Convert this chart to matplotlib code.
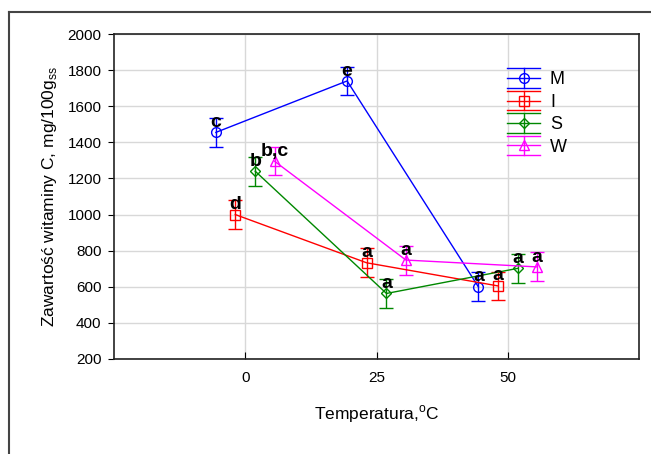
import matplotlib
matplotlib.use("Agg")
import matplotlib.pyplot as plt
from matplotlib.lines import Line2D
from matplotlib.legend_handler import HandlerBase
from matplotlib.container import ErrorbarContainer

temps = [0, 25, 50]
series = ["M", "I", "S", "W"]
means = {
    "M": [1455, 1740, 600],
    "I": [1000, 733, 605],
    "S": [1240, 563, 702],
    "W": [1295, 748, 710],
}
errs = {
    "M": [80, 78, 80],
    "I": [80, 80, 78],
    "S": [80, 80, 80],
    "W": [78, 80, 80],
}
letters = {
    "M": ["c", "e", "a"],
    "I": ["d", "a", "a"],
    "S": ["b", "a", "a"],
    "W": ["b,c", "a", "a"],
}
colors = {"M": "#0000ff", "I": "#ff0000", "S": "#008800", "W": "#ff00ff"}
markers = {"M": "o", "I": "s", "S": "D", "W": "^"}
msizes = {"M": 7, "I": 7, "S": 5, "W": 7}

plt.rcParams["font.family"] = ["Liberation Sans", "DejaVu Sans"]
plt.rcParams["mathtext.fontset"] = "custom"
plt.rcParams["mathtext.rm"] = "Liberation Sans"


class ErrHandler(HandlerBase):
    def create_artists(self, legend, orig_handle, xdescent, ydescent,
                       width, height, fontsize, trans):
        key = orig_handle.get_label()
        c = colors[key]
        x0, x1 = -xdescent, -xdescent + width
        xm = (x0 + x1) / 2
        ym = -ydescent + height / 2
        d = 7.0
        arts = [
            Line2D([x0, x1], [ym, ym], color=c, lw=1),
            Line2D([x0, x1], [ym + d, ym + d], color=c, lw=1),
            Line2D([x0, x1], [ym - d, ym - d], color=c, lw=1),
            Line2D([xm, xm], [ym - d, ym + d], color=c, lw=1),
            Line2D([xm], [ym], marker=markers[key], ms=msizes[key],
                   mfc="none", mec=c, color=c, lw=0),
        ]
        for a in arts:
            a.set_transform(trans)
        return arts


fig = plt.figure(figsize=(6.51, 4.54), dpi=100)
ax = fig.add_axes([114 / 651, 1 - 359 / 454, (639 - 114) / 651, (359 - 34) / 454])

offsets = [-5.6, -1.9, 1.9, 5.6]
handles = []
for k, name in enumerate(series):
    xs = [t + offsets[k] for t in temps]
    h = ax.errorbar(xs, means[name], yerr=errs[name], color=colors[name],
                    marker=markers[name], ms=msizes[name], mfc="none",
                    mec=colors[name], lw=1, elinewidth=1, capsize=5,
                    capthick=1, label=name, zorder=3)
    handles.append(h)
    for x, y, s in zip(xs, means[name], letters[name]):
        ax.text(x, y + 30, s, ha="center", va="baseline", fontsize=14,
                fontweight="bold", color="black", zorder=4)

ax.set_xlim(-25, 75)
ax.set_ylim(200, 2000)
ax.set_xticks(temps)
ax.set_yticks(range(200, 2001, 200))
ax.grid(True, color="#d8d8d8", lw=1)
ax.set_axisbelow(True)
ax.tick_params(axis="y", direction="out", length=4, pad=5, labelsize=11)
ax.tick_params(axis="x", direction="in", length=5, pad=9, labelsize=11)
for sp in ax.spines.values():
    sp.set_color("#222222")
    sp.set_linewidth(1.2)

ax.set_xlabel(r"Temperatura,$^{\mathrm{o}}$C", fontsize=12.5, labelpad=13)
ax.set_ylabel(r"Zawartość witaminy C, mg/100g$_{\mathrm{ss}}$", fontsize=12.5,
              labelpad=6)

leg = ax.legend(handles=handles, labels=series,
                handler_map={ErrorbarContainer: ErrHandler()},
                loc="upper left", bbox_to_anchor=(493 / 651, 1 - 57 / 454),
                bbox_transform=fig.transFigure, frameon=False, fontsize=13,
                handlelength=1.8, handletextpad=0.55, labelspacing=0.3,
                borderpad=0.3)

# outer frame (top and left edges only)
fig.add_artist(Line2D([9 / 651, 1], [1 - 12 / 454, 1 - 12 / 454],
                      transform=fig.transFigure, color="#444444", lw=1.5))
fig.add_artist(Line2D([9 / 651, 9 / 651], [0, 1 - 12 / 454],
                      transform=fig.transFigure, color="#444444", lw=1.5))

fig.savefig("out.png", dpi=100)
